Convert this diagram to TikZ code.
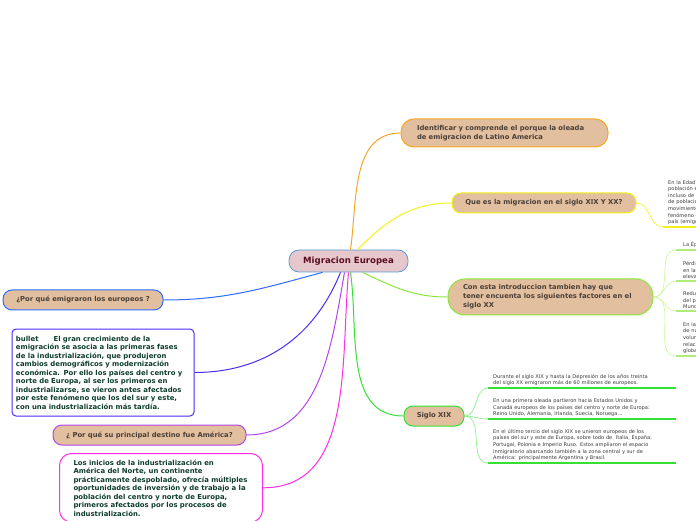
\documentclass[tikz,border=0pt]{standalone}
\usepackage{fontspec}
\setmainfont{DejaVu Sans}
\usepackage{xcolor}
\usetikzlibrary{positioning}

\definecolor{topicfill}{HTML}{E2BF9F}
\definecolor{topictext}{HTML}{4A4038}
\definecolor{centerfill}{HTML}{E6C8CC}
\definecolor{centerline}{HTML}{5B9BD5}
\definecolor{centertext}{HTML}{5A0E1E}
\definecolor{notetext}{HTML}{0E3D2E}
\definecolor{leaftext}{HTML}{3C3C3C}
\definecolor{orangeline}{HTML}{F5A623}
\definecolor{yellowline}{HTML}{F2F21A}
\definecolor{limeline}{HTML}{8BE63C}
\definecolor{limetwig}{HTML}{C8F59A}
\definecolor{greenline}{HTML}{33E033}
\definecolor{greentwig}{HTML}{7EF07E}
\definecolor{blueline}{HTML}{2F6BFF}
\definecolor{indigoline}{HTML}{4B2CF5}
\definecolor{purpleline}{HTML}{B347E6}
\definecolor{magentaline}{HTML}{FF2EE6}

\begin{document}
\begin{tikzpicture}[x=1pt, y=1pt,
        topic/.style={draw, line width=1pt, fill=topicfill, rounded corners=9pt, text=topictext,
          font=\bfseries\fontsize{6.8}{9}\selectfont, inner sep=0pt, minimum height=20pt},
        notebox/.style={draw, line width=1pt, fill=white, text=notetext, align=left,
          font=\bfseries\fontsize{6.9}{8.5}\selectfont},
        leaf/.style={anchor=south west, align=left, text=leaftext,
          font=\fontsize{5.1}{6.6}\selectfont, inner xsep=5pt, inner ysep=2pt},
        link/.style={line width=1pt},
        twig/.style={line width=0.6pt},
        rule/.style={line width=1.6pt}]

        \useasboundingbox (0,0) rectangle (696,520);
        \clip (0,0) rectangle (696,520);

        % Centre
        \node[draw=centerline, line width=0.8pt, fill=centerfill, rounded corners=10pt,
          minimum width=119pt, minimum height=22pt, text=centertext,
          font=\bfseries\fontsize{8.6}{10}\selectfont] (migra) at (348.5,259) {Migracion Europea};

        % Right side
        \node[topic, draw=orangeline, minimum height=28pt, rounded corners=13pt, inner xsep=16pt,
          text width=175pt, align=left] (ident) at (504.5,387)
          {Identificar y comprende el porque la oleada\\de emigracion de Latino America};
        \node[topic, draw=yellowline, minimum width=184pt] (quees) at (544,317)
          {Que es la migracion en el siglo XIX Y XX?};
        \node[topic, draw=limeline, minimum height=36pt, rounded corners=17pt, inner xsep=15pt,
          text width=175pt, align=left] (factores) at (550.5,223)
          {Con esta introduccion tambien hay que\\tener encuenta los siguientes factores en el\\siglo XX};
        \node[topic, draw=greenline, minimum width=60pt] (siglo) at (434,104) {Siglo XIX};

        % Left side
        \node[topic, draw=blueline, minimum width=160pt] (porque) at (83,220)
          {¿Por qué emigraron los europeos ?};
        \node[notebox, draw=indigoline, rounded corners=4pt, minimum width=182pt, minimum height=87pt,
          text width=174pt, inner xsep=4pt] (crece) at (103,147.5)
          {bullet\hspace{15pt}El gran crecimiento de la\\
           emigración se asocia a las primeras fases\\
           de la industrialización, que produjeron\\
           cambios demográficos y modernización\\
           económica. Por ello los países del centro y\\
           norte de Europa, al ser los primeros en\\
           industrializarse, se vieron antes afectados\\
           por este fenómeno que los del sur y este,\\
           con una industrialización más tardía.};
        \node[topic, draw=purpleline, minimum width=193pt] (destino) at (149.5,85)
          {¿ Por qué su principal destino fue América?};
        \node[notebox, draw=magentaline, rounded corners=12pt, anchor=north west, minimum width=203pt,
          text width=179pt, inner xsep=12pt, inner ysep=6pt] (inicios) at (59,67)
          {\hspace{2pt}Los inicios de la industrialización en\\
           \hspace{2pt}América del Norte, un continente\\
           \hspace{2pt}prácticamente despoblado, ofrecía múltiples\\
           \hspace{2pt}oportunidades de inversión y de trabajo a la\\
           \hspace{2pt}población del centro y norte de Europa,\\
           \hspace{2pt}primeros afectados por los procesos de\\
           \hspace{2pt}industrialización.};

        % Leaves
        \node[leaf, text width=90pt] (ynote) at (663,293)
          {En la Edad Moderna la\\población europea creció\\incluso de forma notable\\de poblaciones enteras\\movimientos migratorios\\fenómeno que afecta al\\país (emigración) y al};
        \node[leaf, text width=80pt, inner xsep=7pt] (f1) at (676,270) {La Época industrial};
        \node[leaf, text width=80pt, inner xsep=7pt] (f2) at (676,239)
          {Pérdida de empleos\\en la agricultura\\elevado crecimiento};
        \node[leaf, text width=80pt, inner xsep=7pt] (f3) at (676,209)
          {Reducción de la\\del pueblo europeo\\Mundial};
        \node[leaf, text width=80pt, inner xsep=7pt] (f4) at (676,164)
          {En la segunda\\de nuevos medios\\volumen de\\relaciones\\globales};
        \node[leaf, text width=178pt] (s1) at (488,132)
          {Durante el siglo XIX y hasta la Depresión de los años treinta\\
           del siglo XX emigraron más de 60 millones de europeos.};
        \node[leaf, text width=178pt] (s2) at (488,101)
          {En una primera oleada partieron hacia Estados Unidos y\\
           Canadá europeos de los países del centro y norte de Europa:\\
           Reino Unido, Alemania, Irlanda, Suecia, Noruega…};
        \node[leaf, text width=178pt] (s3) at (488,57)
          {En el último tercio del siglo XIX se unieron europeos de los\\
           países del sur y este de Europa, sobre todo de\ \ Italia, España,\\
           Portugal, Polonia e Imperio Ruso. Estos ampliaron el espacio\\
           inmigratorio abarcando también a la zona central y sur de\\
           América: principalmente Argentina y Brasil.};

        % Links from centre
        \draw[link, orangeline] ([xshift=2pt]migra.north) to[out=82, in=180] (ident.west);
        \draw[link, yellowline] ([xshift=9pt]migra.north) to[out=45, in=180] (quees.west);
        \draw[link, limeline] ([xshift=14pt]migra.south) to[out=-25, in=180] (factores.west);
        \draw[link, greenline] ([xshift=2pt]migra.south) to[out=-82, in=180] (siglo.west);
        \draw[link, blueline] ([xshift=-26pt]migra.south) to[out=195, in=0] (porque.east);
        \draw[link, indigoline] ([xshift=-8pt]migra.south) to[out=-112, in=0] (crece.east);
        \draw[link, purpleline] ([xshift=-4pt]migra.south) to[out=-100, in=0] (destino.east);
        \draw[link, magentaline] (migra.south) to[out=-95, in=0] (inicios.east);

        % Twigs to leaves
        \draw[twig, yellowline] (quees.east) to[out=0, in=180] (ynote.south west);
        \draw[rule, yellowline] (ynote.south west) -- (ynote.south east);
        \foreach \leafname in {f1,f2,f3,f4} {
          \draw[twig, limetwig] (factores.east) to[out=0, in=180] (\leafname.south west);
          \draw[rule, limeline!70] (\leafname.south west) -- (\leafname.south east);
        }
        \foreach \leafname in {s1,s2,s3} {
          \draw[twig, greentwig] (siglo.east) to[out=0, in=180] (\leafname.south west);
          \draw[rule, greenline] (\leafname.south west) -- (\leafname.south east);
        }
      \end{tikzpicture}
\end{document}
